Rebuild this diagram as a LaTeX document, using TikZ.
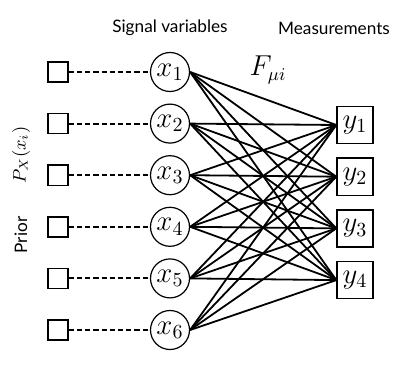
\documentclass[tikz,border=0pt]{standalone}
\usepackage{fontspec}
\newfontfamily\labelfont{Lato}
\usetikzlibrary{positioning}

\begin{document}
\begin{tikzpicture}[
  x=0.5pt, y=-0.5pt,
  prior/.style={rectangle, draw, line width=0.7pt, minimum size=10pt,
                inner sep=0pt},
  signal/.style={circle, draw, line width=0.6pt, minimum size=19.5pt,
                 inner sep=0pt, font=\fontsize{14}{16}\selectfont},
  meas/.style={rectangle, draw, line width=0.7pt, minimum width=18pt,
               minimum height=18.5pt, inner sep=0pt,
               font=\fontsize{14}{16}\selectfont},
  title/.style={font=\labelfont\fontsize{8.6}{10}\selectfont},
  note/.style={font=\fontsize{13.5}{15}\selectfont},
  link/.style={draw, line width=0.9pt},
  prioredge/.style={draw, line width=1pt, dash pattern=on 2.6pt off 1.5pt},
]
  \useasboundingbox (0,0) rectangle (415,368);

  % ===== Column headers =====
  \node[title] (sighead) at (170, 28) {Signal variables};
  \node[title] (meashead) at (334, 28) {Measurements};

  % ===== Prior factors and signal variables =====
  \foreach \i in {1,...,6} {
    \node[prior] (sq\i) at (58, {72+51.6*(\i-1)}) {};
    \node[signal] (x\i) at (170, {72+51.6*(\i-1)}) {$x_{\i}$};
    \draw[prioredge] (sq\i.east) -- (x\i.west);
  }

  % ===== Measurements =====
  \foreach \j in {1,...,4} {
    \node[meas] (y\j) at (355, {125+51.7*(\j-1)}) {$y_{\j}$};
  }

  % ===== Side labels =====
  \node[rotate=90, font=\fontsize{9}{10}\selectfont] (plabel) at (21, 155)
       {$P_X(x_i)$};
  \node[title, rotate=90] (priorlabel) at (21, 235) {Prior};

  % ===== Couplings =====
  \node[note] (coupling) at (268, 70) {$F_{\mu i}$};
  \foreach \i in {1,...,6} {
    \foreach \j in {1,...,4} {
      \draw[link] (x\i.east) -- (y\j.west);
    }
  }

\end{tikzpicture}
\end{document}
